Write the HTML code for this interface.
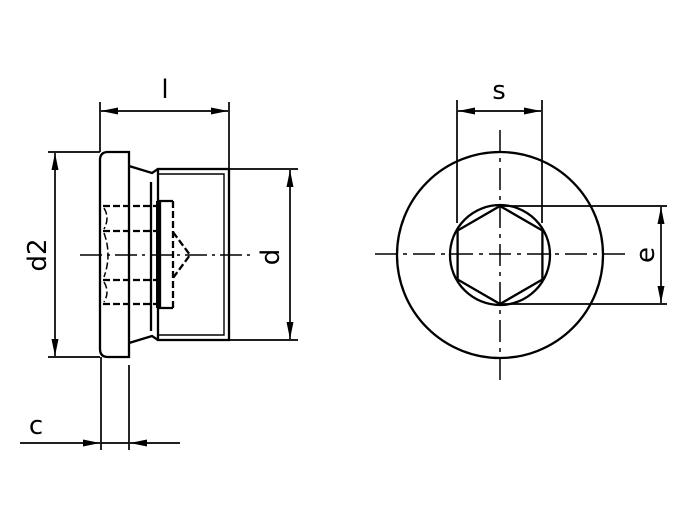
<!DOCTYPE html>
<html><head><style>
html,body{margin:0;padding:0;background:#fff;width:699px;height:510px;overflow:hidden}
svg text{font-family:"DejaVu Sans","Liberation Sans",sans-serif;font-size:26px;fill:#000}
</style></head><body>
<svg width="699" height="510" viewBox="0 0 699 510" xmlns="http://www.w3.org/2000/svg">
<defs>
<marker id="a" viewBox="0 0 17 7" refX="17" refY="3.5" markerWidth="17" markerHeight="7" orient="auto-start-reverse" markerUnits="userSpaceOnUse"><path d="M0,0 L17,3.5 L0,7 z" fill="#000"/></marker>
</defs>
<g stroke="#000" fill="none" stroke-width="2.3">
<path d="M108,152 H129 V357 H108 Q100,357 100,349 V160 Q100,152 108,152 Z"/>
<path d="M129,166 L152,173 L158,169 M129,343 L152,336 L158,340"/>
<line x1="151" y1="182" x2="151" y2="331"/>
<rect x="158" y="169" width="71" height="171"/>
<path d="M158,174 H224 V335 H158" stroke-width="1.4"/>
<path d="M173,201 H160 V308 H173"/>
<line x1="157" y1="201" x2="157" y2="308" stroke-width="2"/>
<g stroke-dasharray="7,3">
<path d="M173,201 V308"/>
<path d="M103,206 H159 M103,231 H159 M103,280 H159 M103,304 H159"/>
<path d="M173,232 L190,255 L173,278"/>
<path d="M104,208 Q110,218 104,229 M104,233 Q112,255 104,277 M104,282 Q110,292 104,302" stroke-width="1.5"/>
</g>
<line x1="80" y1="255" x2="250" y2="255" stroke-width="1.5" stroke-dasharray="22,5,3,5"/>
<line x1="375" y1="254" x2="625" y2="254" stroke-width="1.5" stroke-dasharray="22,6,4,6"/>
<line x1="500" y1="130" x2="500" y2="380" stroke-width="1.5" stroke-dasharray="22,6,4,6"/>
<g stroke-width="1.7">
<line x1="100" y1="102" x2="100" y2="152"/>
<line x1="229" y1="102" x2="229" y2="168"/>
<line x1="101" y1="111" x2="228" y2="111" marker-start="url(#a)" marker-end="url(#a)"/>
<line x1="48" y1="152" x2="100" y2="152"/>
<line x1="48" y1="357" x2="100" y2="357"/>
<line x1="55" y1="153" x2="55" y2="356" marker-start="url(#a)" marker-end="url(#a)"/>
<line x1="229" y1="169" x2="298" y2="169"/>
<line x1="229" y1="340" x2="298" y2="340"/>
<line x1="290" y1="170" x2="290" y2="339" marker-start="url(#a)" marker-end="url(#a)"/>
<line x1="101" y1="357" x2="101" y2="450"/>
<line x1="129" y1="365" x2="129" y2="450"/>
<line x1="20" y1="443" x2="100" y2="443" marker-end="url(#a)"/>
<line x1="180" y1="443" x2="130" y2="443" marker-end="url(#a)"/>
<line x1="101" y1="443" x2="129" y2="443"/>
<line x1="457" y1="100" x2="457" y2="223"/>
<line x1="542" y1="100" x2="542" y2="223"/>
<line x1="458" y1="111" x2="541" y2="111" marker-start="url(#a)" marker-end="url(#a)"/>
<line x1="500" y1="206" x2="667" y2="206"/>
<line x1="500" y1="304" x2="667" y2="304"/>
<line x1="661" y1="207" x2="661" y2="303" marker-start="url(#a)" marker-end="url(#a)"/>
</g>
<circle cx="500" cy="255" r="103"/>
<circle cx="500" cy="255" r="50"/>
<polygon points="500,206 542.4,230.5 542.4,279.5 500,304 457.6,279.5 457.6,230.5"/>
</g>
<text x="165" y="98" text-anchor="middle">l</text>
<text x="499" y="99" text-anchor="middle">s</text>
<text x="36" y="434" text-anchor="middle">c</text>
<text transform="translate(46,255) rotate(-90)" text-anchor="middle">d2</text>
<text transform="translate(279,257) rotate(-90)" text-anchor="middle">d</text>
<text transform="translate(654,255) rotate(-90)" text-anchor="middle">e</text>
</svg>
</body></html>
